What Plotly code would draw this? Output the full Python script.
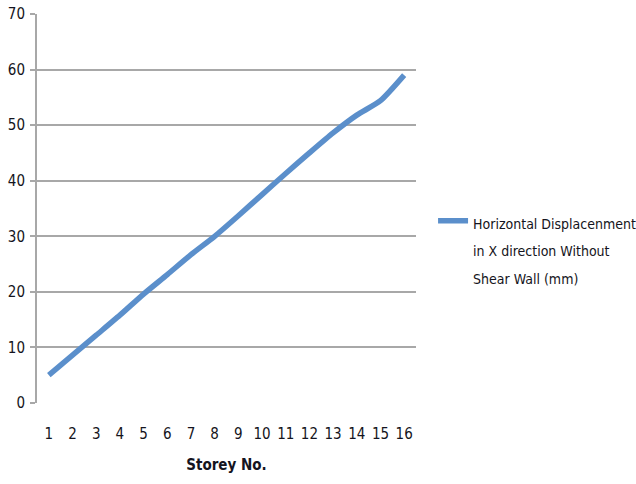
import plotly.graph_objects as go

# Storey-wise horizontal displacement (mm)
storeys = [str(i) for i in range(1, 17)]
displacement = [5, 8.6, 12.2, 15.8, 19.6, 23.1, 26.7, 30, 33.7, 37.5, 41.3, 45, 48.6, 51.8, 54.4, 59]
y_ticks = [0, 10, 20, 30, 40, 50, 60, 70]

series_name = ("<span style='font-size:14px'>Horizontal Displacenment<br>"
               "in X direction Without<br>Shear Wall (mm)</span>")

FONT = "DejaVu Sans Condensed, Liberation Sans Narrow, sans-serif"
GRID = "#a8a8a8"

fig = go.Figure()
fig.add_trace(go.Scatter(
    x=storeys, y=displacement, mode="lines", name=series_name,
    line=dict(color="#5b8fcb", width=5.5, shape="spline", smoothing=0.6),
))

fig.update_layout(
    width=636, height=484,
    margin=dict(l=37, r=220, t=14, b=81, autoexpand=False),
    paper_bgcolor="white", plot_bgcolor="white",
    font=dict(family=FONT, color="#141420"),
    showlegend=True,
    legend=dict(
        x=1.045, xanchor="left", y=0.52, yanchor="top",
        font=dict(size=21, family=FONT, color="#141420"),
        valign="top", bgcolor="rgba(0,0,0,0)",
    ),
    xaxis=dict(
        type="category", range=[-0.5, len(storeys) - 0.5],
        showgrid=False, zeroline=False, showline=False,
        ticks="", tickfont=dict(size=15), ticklabelstandoff=20,
        title=dict(text="<b>Storey No.</b>", font=dict(size=15), standoff=17),
    ),
    yaxis=dict(
        range=[0, 70], tickvals=y_ticks, showgrid=True, gridcolor=GRID, gridwidth=2,
        zeroline=False, showline=True, linecolor=GRID, linewidth=2,
        ticks="outside", ticklen=5, tickcolor=GRID, tickwidth=2,
        tickfont=dict(size=15), ticklabelstandoff=2,
    ),
)

fig.write_html("out.html")
